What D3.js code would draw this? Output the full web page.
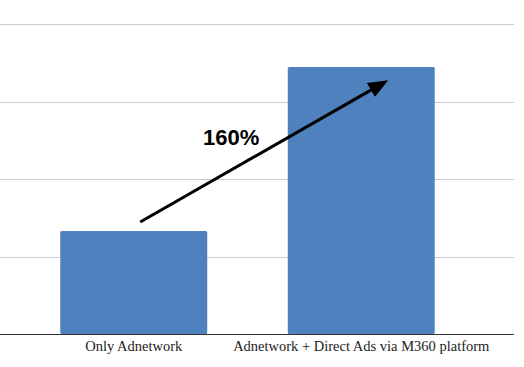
<!DOCTYPE html>
<html>
<head>
<meta charset="utf-8">
<script src="https://cdn.jsdelivr.net/npm/d3@7"></script>
<style>
  body { margin: 0; background: #fff; }
</style>
</head>
<body>
<div class="chart"></div>
<script>
const categories = ['Only Adnetwork', 'Adnetwork + Direct Ads via M360 platform'];
const values = [1.33, 3.45];
const yTicks = [1, 2, 3, 4];
const growthLabel = '160%';

const w = 524;
const h = 367;

const svg = d3.select('.chart')
    .append('svg')
    .attr('width', w)
    .attr('height', h);

const x = d3.scaleBand()
    .domain(categories)
    .range([20, 475])
    .paddingInner(0.354)
    .paddingOuter(0.177);

const y = d3.scaleLinear()
    .domain([0, 4])
    .range([334, 24.4]);

// gridlines
svg.selectAll('line.grid')
    .data(yTicks)
    .enter()
    .append('line')
    .attr('class', 'grid')
    .attr('x1', 0)
    .attr('x2', 514)
    .attr('y1', d => Math.round(y(d)) + 0.5)
    .attr('y2', d => Math.round(y(d)) + 0.5)
    .attr('stroke', '#cccccc')
    .attr('stroke-width', 1);

// bars
svg.selectAll('rect.bar')
    .data(values)
    .enter()
    .append('rect')
    .attr('class', 'bar')
    .attr('x', (d, i) => x(categories[i]))
    .attr('y', d => y(d))
    .attr('width', x.bandwidth())
    .attr('height', d => y(0) - y(d))
    .attr('rx', 1.5)
    .attr('fill', '#4e81bd');

// baseline
svg.append('line')
    .attr('x1', 0)
    .attr('x2', 514)
    .attr('y1', y(0) + 0.5)
    .attr('y2', y(0) + 0.5)
    .attr('stroke', '#333333')
    .attr('stroke-width', 1);

// category labels
svg.selectAll('text.cat')
    .data(categories)
    .enter()
    .append('text')
    .attr('class', 'cat')
    .text(d => d)
    .attr('x', d => x(d) + x.bandwidth() / 2)
    .attr('y', 351)
    .attr('text-anchor', 'middle')
    .attr('font-family', 'Liberation Serif, serif')
    .attr('font-size', 14.5)
    .attr('fill', '#222');

// growth arrow
const x0 = x(categories[0]) + x.bandwidth() / 2 + 6.5;
const y0 = y(1.447);
const x1 = x(categories[1]) + x.bandwidth() / 2 + 27;
const y1 = y(3.28);

svg.append('defs').append('marker')
    .attr('id', 'head')
    .attr('viewBox', '0 0 20 16')
    .attr('refX', 20)
    .attr('refY', 8)
    .attr('markerWidth', 20)
    .attr('markerHeight', 16)
    .attr('markerUnits', 'userSpaceOnUse')
    .attr('orient', 'auto')
    .append('path')
    .attr('d', 'M0,0 L20,8 L0,16 Z')
    .attr('fill', '#000');

const ang = Math.atan2(y1 - y0, x1 - x0);
svg.append('line')
    .attr('x1', x0)
    .attr('y1', y0)
    .attr('x2', x1 - 14 * Math.cos(ang))
    .attr('y2', y1 - 14 * Math.sin(ang))
    .attr('stroke', '#000')
    .attr('stroke-width', 3);

svg.append('path')
    .attr('d', `M${x0},${y0}L${x1},${y1}`)
    .attr('stroke', 'none')
    .attr('fill', 'none')
    .attr('marker-end', 'url(#head)');

svg.append('text')
    .text(growthLabel)
    .attr('x', 203)
    .attr('y', 145)
    .attr('font-family', 'Liberation Sans, Arial, sans-serif')
    .attr('font-weight', 'bold')
    .attr('font-size', 22)
    .attr('fill', '#000');
</script>
</body>
</html>
